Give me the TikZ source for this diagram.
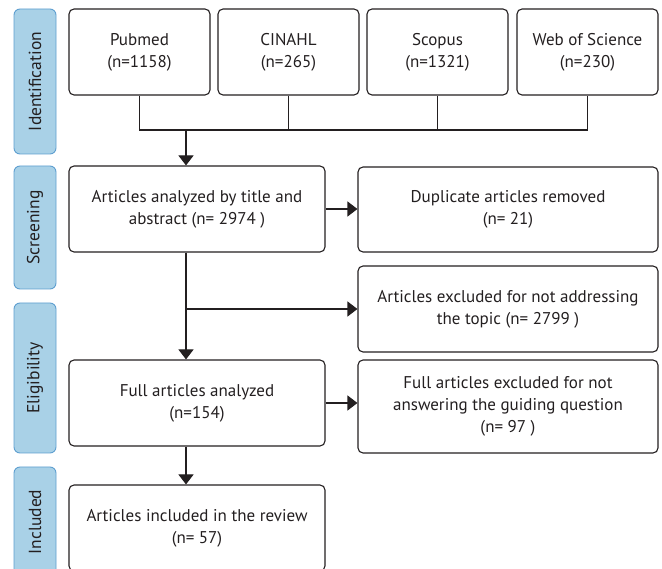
\documentclass[tikz,border=0pt]{standalone}
\usepackage{fontspec}
\setmainfont{PT Sans}
\usetikzlibrary{arrows.meta}
\definecolor{ink}{HTML}{231F20}
\definecolor{stagefill}{HTML}{A9D1E7}
\definecolor{stageline}{HTML}{5E9FD0}
\tikzset{
  box/.style={draw=ink, line width=1.1pt, rounded corners=5pt, align=center,
    text=ink, inner sep=2pt, font=\fontsize{17}{22}\selectfont},
  stage/.style={draw=stageline, fill=stagefill, line width=0.9pt, rounded corners=6pt,
    rotate=90, text=ink, minimum height=42pt, font=\fontsize{17.5}{20}\selectfont},
  link/.style={draw=ink, line width=1.1pt},
  arrow/.style={link, -{Triangle[width=15pt,length=10pt]}}
}
\begin{document}
\begin{tikzpicture}[x=1pt,y=-1pt]
\useasboundingbox (0,0) rectangle (662,569);

% stages
\node[stage, minimum width=145pt] (ident) at (35,81.5) {Identification};
\node[stage, minimum width=123pt] (screen) at (35,227.5) {Screening};
\node[stage, minimum width=150pt] (elig) at (35,378) {Eligibility};
\node[stage, minimum width=110pt] (incl) at (35,522) {Included};

% databases
\node[box, minimum width=141pt, minimum height=86pt] (pubmed) at (139.5,52) {Pubmed\\(n=1158)};
\node[box, minimum width=141pt, minimum height=86pt] (cinahl) at (288.5,52) {CINAHL\\(n=265)};
\node[box, minimum width=141pt, minimum height=86pt] (scopus) at (437.5,52) {Scopus\\(n=1321)};
\node[box, minimum width=141pt, minimum height=86pt] (wos) at (587.5,52) {Web of Science\\(n=230)};

% left column
\node[box, minimum width=256pt, minimum height=86pt] (title) at (197,209) {Articles analyzed by title and\\abstract (n= 2974 )};
\node[box, minimum width=256pt, minimum height=86pt] (full) at (197,403) {Full articles analyzed\\(n=154)};
\node[box, minimum width=256pt, minimum height=86pt] (review) at (197,528) {Articles included in the review\\(n= 57)};

% right column
\node[box, minimum width=300pt, minimum height=85pt] (dup) at (508,209.5) {Duplicate articles removed\\(n= 21)};
\node[box, minimum width=300pt, minimum height=86pt] (topic) at (508,309) {Articles excluded for not addressing\\the topic (n= 2799 )};
\node[box, minimum width=300pt, minimum height=93pt] (guide) at (508,406.5) {Full articles excluded for not\\answering the guiding question\\(n= 97 )};

\coordinate (join) at (186,130);

\draw[link] (pubmed.south) |- (wos.south |- join) -- (wos.south);
\draw[link] (cinahl.south) -- (cinahl.south |- join);
\draw[link] (scopus.south) -- (scopus.south |- join);
\draw[arrow] (join) -- (join |- title.north);

\draw[arrow] (title.east) -- (title.east -| dup.west);
\draw[arrow] (title.south -| join) -- (full.north -| join);
\draw[arrow] (title.south -| join) |- (topic.west);
\draw[arrow] (full.east) -- (full.east -| guide.west);
\draw[arrow] (full.south -| join) -- (review.north -| join);
\end{tikzpicture}
\end{document}
